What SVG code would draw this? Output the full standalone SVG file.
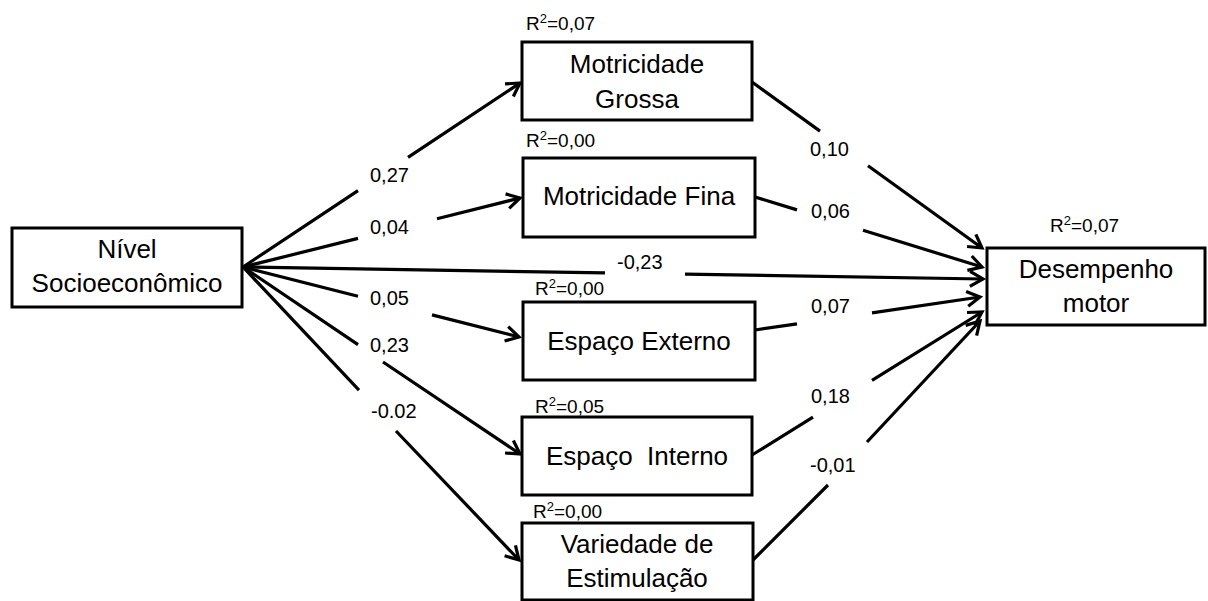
<svg xmlns="http://www.w3.org/2000/svg" width="1208" height="601" viewBox="0 0 1208 601">
<defs>
<style>
.box{fill:#fff;stroke:#000;stroke-width:3}
.t{font-family:"Liberation Sans",Arial,sans-serif;font-size:26px;fill:#000;text-anchor:middle}
.c{font-family:"Liberation Sans",Arial,sans-serif;font-size:20px;fill:#000}
.r{font-family:"Liberation Sans",Arial,sans-serif;font-size:19px;fill:#000}
.e{fill:none;stroke:#000;stroke-width:3.2;marker-end:url(#ah)}
</style>
<marker id="ah" markerUnits="userSpaceOnUse" markerWidth="20" markerHeight="20" viewBox="-16 -10 20 20" refX="0" refY="0" orient="auto">
<path d="M-13,-7.5 L0,0 L-13,7.5" fill="none" stroke="#000" stroke-width="3.2" stroke-linejoin="miter"/>
</marker>
</defs>
<rect width="1208" height="601" fill="#fff"/>
<g id="connectors">
<path class="e" d="M243,267 L358,190.6 M408,157.4 L520,83"/>
<path class="e" d="M243,267 L358,238.4 M437,218.7 L520,198"/>
<path class="e" d="M243,267 L605,272.9 M685,274.2 L983,279"/>
<path class="e" d="M243,267 L358,296.2 M432,314.9 L519,337"/>
<path class="e" d="M243,267 L358,344.6 M383,362 L520,454"/>
<path class="e" d="M243,267 L359,390.1 M396,431 L519,560"/>
<path class="e" d="M752,82 L820,131.1 M868,165.7 L982,248"/>
<path class="e" d="M755,197 L797,209.9 M863,230.3 L982,267"/>
<path class="e" d="M755,330 L797,323.8 M872,312.8 L980,297"/>
<path class="e" d="M752,455 L813,417.1 M872,380.4 L982,312"/>
<path class="e" d="M752,561 L828,485 M867,442 L980,321"/>
<text class="c" x="370" y="182">0,27</text>
<text class="c" x="370" y="234">0,04</text>
<text class="c" x="370" y="305">0,05</text>
<text class="c" x="370" y="352">0,23</text>
<text class="c" x="371" y="418">-0.02</text>
<text class="c" x="617" y="269">-0,23</text>
<text class="c" x="810" y="156">0,10</text>
<text class="c" x="811" y="218">0,06</text>
<text class="c" x="811" y="313">0,07</text>
<text class="c" x="811" y="403">0,18</text>
<text class="c" x="810" y="472">-0,01</text>
</g>
<g id="nivel">
<rect class="box" x="12" y="228" width="230" height="79"/>
<text class="t" x="127" y="258">Nível</text>
<text class="t" x="127" y="292">Socioeconômico</text>
</g>
<g id="motricidade-grossa">
<rect class="box" x="522" y="42" width="230" height="78"/>
<text class="t" x="637" y="73">Motricidade</text>
<text class="t" x="637" y="108">Grossa</text>
<text class="r" x="526" y="30">R<tspan dy="-7" font-size="13">2</tspan><tspan dy="7">=0,07</tspan></text>
</g>
<g id="motricidade-fina">
<rect class="box" x="523" y="158" width="232" height="79"/>
<text class="t" x="639" y="205">Motricidade Fina</text>
<text class="r" x="526" y="147">R<tspan dy="-7" font-size="13">2</tspan><tspan dy="7">=0,00</tspan></text>
</g>
<g id="espaco-externo">
<rect class="box" x="523" y="302" width="232" height="78"/>
<text class="t" x="639" y="350">Espaço Externo</text>
<text class="r" x="535" y="295">R<tspan dy="-7" font-size="13">2</tspan><tspan dy="7">=0,00</tspan></text>
</g>
<g id="espaco-interno">
<rect class="box" x="522" y="417" width="230" height="78"/>
<text class="t" x="637" y="465" xml:space="preserve" style="white-space:pre">Espaço  Interno</text>
<text class="r" x="535" y="413">R<tspan dy="-7" font-size="13">2</tspan><tspan dy="7">=0,05</tspan></text>
</g>
<g id="variedade">
<rect class="box" x="522" y="523" width="231" height="77"/>
<text class="t" x="637" y="553">Variedade de</text>
<text class="t" x="637" y="587">Estimulação</text>
<text class="r" x="533" y="518">R<tspan dy="-7" font-size="13">2</tspan><tspan dy="7">=0,00</tspan></text>
</g>
<g id="desempenho">
<rect class="box" x="987" y="248" width="218" height="77"/>
<text class="t" x="1096" y="278">Desempenho</text>
<text class="t" x="1096" y="312">motor</text>
<text class="r" x="1050" y="232">R<tspan dy="-7" font-size="13">2</tspan><tspan dy="7">=0,07</tspan></text>
</g>
</svg>
